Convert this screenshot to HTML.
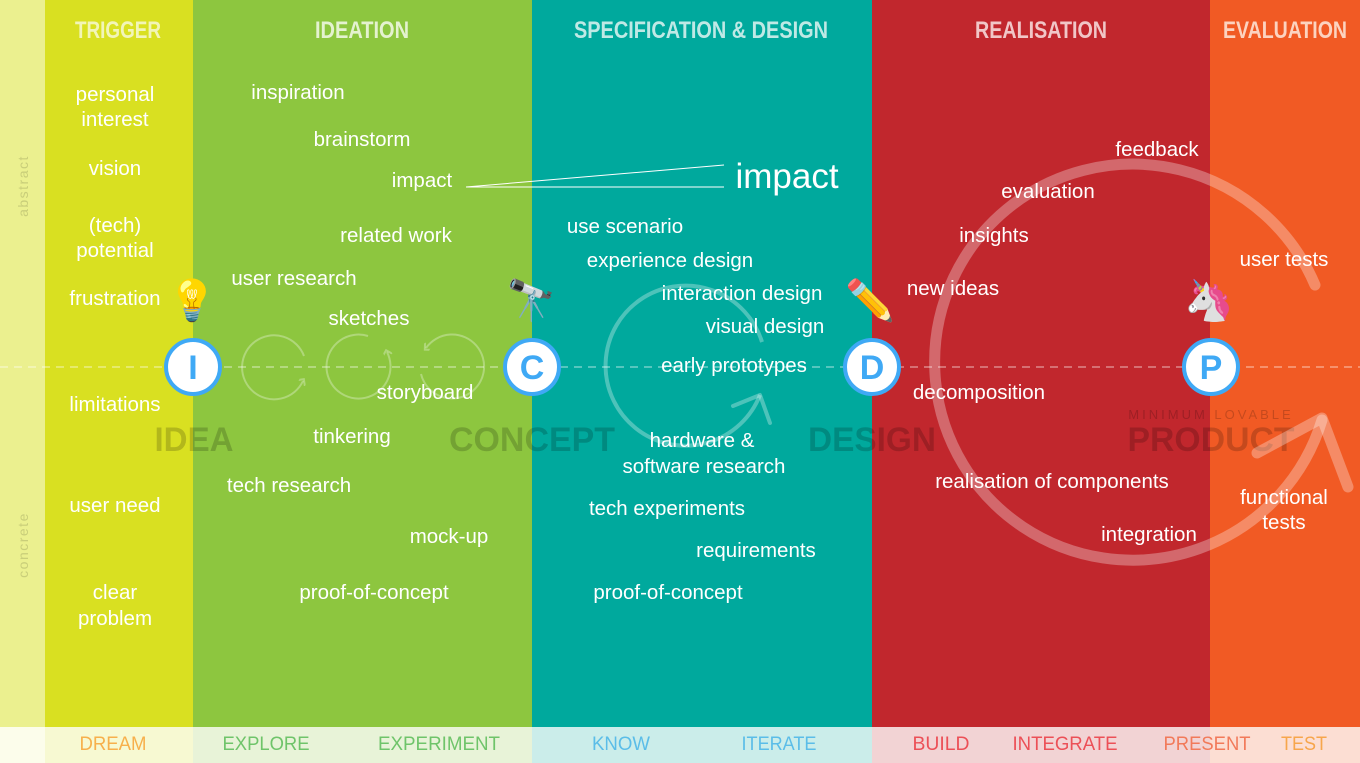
<!DOCTYPE html>
<html><head><meta charset="utf-8">
<style>
html,body{margin:0;padding:0;width:1360px;height:763px;overflow:hidden;background:#fff}
svg{display:block}
.h{font-family:"Liberation Sans",sans-serif;font-weight:bold;font-size:24px;text-anchor:middle}
.t{font-family:"Liberation Sans",sans-serif;font-size:20.5px;fill:#fff;text-anchor:middle}
.w{font-family:"Liberation Sans",sans-serif;font-weight:bold;font-size:34px;text-anchor:middle;fill:#000;fill-opacity:0.18}
.b{font-family:"Liberation Sans",sans-serif;font-size:19px;text-anchor:middle}
.cl{font-family:"Liberation Sans",sans-serif;font-weight:bold;font-size:34px;fill:#3fa9f5;text-anchor:middle}
</style></head><body>
<svg width="1360" height="763" viewBox="0 0 1360 763">
<defs>
<marker id="ah" markerWidth="8" markerHeight="8" refX="4" refY="4" orient="auto" markerUnits="userSpaceOnUse"><path d="M0,-2 L4,4 L-2,8" transform="translate(2,0)" fill="none" stroke="#fff" stroke-opacity="0.3" stroke-width="2"/></marker>
</defs>
<rect x="0" y="0" width="45" height="727" fill="#ebf08f"/>
<rect x="45" y="0" width="148" height="727" fill="#d9e021"/>
<rect x="193" y="0" width="339" height="727" fill="#8dc63f"/>
<rect x="532" y="0" width="340" height="727" fill="#00a99d"/>
<rect x="872" y="0" width="338" height="727" fill="#c1272d"/>
<rect x="1210" y="0" width="150" height="727" fill="#f15a24"/>
<rect x="0" y="727" width="45" height="36" fill="#fcfdeb"/>
<rect x="45" y="727" width="148" height="36" fill="#f7f9d2"/>
<rect x="193" y="727" width="339" height="36" fill="#e8f3d8"/>
<rect x="532" y="727" width="340" height="36" fill="#cbedea"/>
<rect x="872" y="727" width="338" height="36" fill="#f2d3d4"/>
<rect x="1210" y="727" width="150" height="36" fill="#fcded3"/>
<g>
<text class="b" x="113" y="750" fill="#f7b04c" textLength="67" lengthAdjust="spacingAndGlyphs">DREAM</text>
<text class="b" x="266" y="750" fill="#6fc46a" textLength="87" lengthAdjust="spacingAndGlyphs">EXPLORE</text>
<text class="b" x="439" y="750" fill="#6fc46a" textLength="122" lengthAdjust="spacingAndGlyphs">EXPERIMENT</text>
<text class="b" x="621" y="750" fill="#5bbde8" textLength="58" lengthAdjust="spacingAndGlyphs">KNOW</text>
<text class="b" x="779" y="750" fill="#5bbde8" textLength="75" lengthAdjust="spacingAndGlyphs">ITERATE</text>
<text class="b" x="941" y="750" fill="#ec5057" textLength="57" lengthAdjust="spacingAndGlyphs">BUILD</text>
<text class="b" x="1065" y="750" fill="#ec5057" textLength="105" lengthAdjust="spacingAndGlyphs">INTEGRATE</text>
<text class="b" x="1207" y="750" fill="#f27a5a" textLength="87" lengthAdjust="spacingAndGlyphs">PRESENT</text>
<text class="b" x="1304" y="750" fill="#f7a64c" textLength="46" lengthAdjust="spacingAndGlyphs">TEST</text>
</g>
<text x="28" y="186" transform="rotate(-90 28 186)" font-family="Liberation Sans,sans-serif" font-size="14" fill="#c9ce7a" text-anchor="middle" letter-spacing="1.5">abstract</text>
<text x="28" y="545" transform="rotate(-90 28 545)" font-family="Liberation Sans,sans-serif" font-size="14" fill="#c9ce7a" text-anchor="middle" letter-spacing="1.5">concrete</text>
<g>
<text class="h" x="118" y="38" fill="#f2f5b8" textLength="86" lengthAdjust="spacingAndGlyphs">TRIGGER</text>
<text class="h" x="362" y="38" fill="#e4f2cf" textLength="94" lengthAdjust="spacingAndGlyphs">IDEATION</text>
<text class="h" x="701" y="38" fill="#bfe9e5" textLength="254" lengthAdjust="spacingAndGlyphs">SPECIFICATION &amp; DESIGN</text>
<text class="h" x="1041" y="38" fill="#f1c6c7" textLength="132" lengthAdjust="spacingAndGlyphs">REALISATION</text>
<text class="h" x="1285" y="38" fill="#fcd3c0" textLength="124" lengthAdjust="spacingAndGlyphs">EVALUATION</text>
</g>
<line x1="0" y1="367" x2="1360" y2="367" stroke="#fff" stroke-opacity="0.45" stroke-width="1.5" stroke-dasharray="8,6"/>
<g>
<text class="w" x="194" y="451" textLength="79" lengthAdjust="spacingAndGlyphs">IDEA</text>
<text class="w" x="532" y="451" textLength="166" lengthAdjust="spacingAndGlyphs">CONCEPT</text>
<text class="w" x="872" y="451" textLength="128" lengthAdjust="spacingAndGlyphs">DESIGN</text>
<text class="w" x="1211" y="451" textLength="167" lengthAdjust="spacingAndGlyphs">PRODUCT</text>
<text x="1211" y="419" font-family="Liberation Sans,sans-serif" font-size="13" letter-spacing="3" fill="#000" fill-opacity="0.18" text-anchor="middle">MINIMUM LOVABLE</text>
</g>
<g fill="none" stroke="#fff" stroke-opacity="0.3">
<path d="M 304 356 A 32 32 0 1 0 303 381" stroke-width="2" marker-end="url(#ah)"/>
<path d="M 368 336 A 32 32 0 1 0 387 352" stroke-width="2" marker-end="url(#ah)"/>
<path d="M 421 374 A 32 32 0 1 0 426 348" stroke-width="2" marker-end="url(#ah)"/>
<path d="M 762 342 A 80 80 0 1 0 760 395" stroke-width="4"/>
<path d="M 733 406 L 760 395 L 770 423" stroke-width="4" stroke-linecap="round" stroke-linejoin="round"/>
<path d="M 1315 285 A 198 198 0 1 0 1322 420" stroke-width="11" stroke-linecap="round"/>
<path d="M 1257 453 L 1322 418 L 1348 487" stroke-width="11" stroke-linecap="round" stroke-linejoin="round"/>
</g>
<g stroke="#fff" stroke-width="1">
<line x1="466" y1="187" x2="724" y2="165"/>
<line x1="466" y1="187" x2="724" y2="187"/>
</g>
<text x="787" y="188" font-family="Liberation Sans,sans-serif" font-size="35" fill="#fff" text-anchor="middle">impact</text>
<g>
<text class="t" x="115" y="101">personal</text><text class="t" x="115" y="126">interest</text>
<text class="t" x="115" y="175">vision</text>
<text class="t" x="115" y="232">(tech)</text><text class="t" x="115" y="257">potential</text>
<text class="t" x="115" y="305">frustration</text>
<text class="t" x="115" y="411">limitations</text>
<text class="t" x="115" y="512">user need</text>
<text class="t" x="115" y="599">clear</text><text class="t" x="115" y="625">problem</text>
</g>
<g>
<text class="t" x="298" y="99">inspiration</text>
<text class="t" x="362" y="146">brainstorm</text>
<text class="t" x="422" y="187">impact</text>
<text class="t" x="396" y="242">related work</text>
<text class="t" x="294" y="285">user research</text>
<text class="t" x="369" y="325">sketches</text>
<text class="t" x="425" y="399">storyboard</text>
<text class="t" x="352" y="443">tinkering</text>
<text class="t" x="289" y="492">tech research</text>
<text class="t" x="449" y="543">mock-up</text>
<text class="t" x="374" y="599">proof-of-concept</text>
</g>
<g>
<text class="t" x="625" y="233">use scenario</text>
<text class="t" x="670" y="267">experience design</text>
<text class="t" x="742" y="300">interaction design</text>
<text class="t" x="765" y="333">visual design</text>
<text class="t" x="734" y="372">early prototypes</text>
<text class="t" x="702" y="447">hardware &amp;</text>
<text class="t" x="704" y="473">software research</text>
<text class="t" x="667" y="515">tech experiments</text>
<text class="t" x="756" y="557">requirements</text>
<text class="t" x="668" y="599">proof-of-concept</text>
</g>
<g>
<text class="t" x="1157" y="156">feedback</text>
<text class="t" x="1048" y="198">evaluation</text>
<text class="t" x="994" y="242">insights</text>
<text class="t" x="953" y="295">new ideas</text>
<text class="t" x="979" y="399">decomposition</text>
<text class="t" x="1052" y="488">realisation of components</text>
<text class="t" x="1149" y="541">integration</text>
</g>
<g>
<text class="t" x="1284" y="266">user tests</text>
<text class="t" x="1284" y="504">functional</text><text class="t" x="1284" y="529">tests</text>
</g>
<g font-family="Noto Color Emoji,DejaVu Sans,sans-serif" font-size="40" text-anchor="middle">
<text x="192" y="314" fill="#f5d900">💡</text>
<text x="531" y="314" fill="#e33">🔭</text>
<text x="870" y="314" fill="#f7a600">✏️</text>
<text x="1209" y="314" fill="#ddd">🦄</text>
</g>
<g><circle cx="193" cy="367" r="27" fill="#fff" stroke="#3fa9f5" stroke-width="4"/><text class="cl" x="193" y="379">I</text></g>
<g><circle cx="532" cy="367" r="27" fill="#fff" stroke="#3fa9f5" stroke-width="4"/><text class="cl" x="532" y="379">C</text></g>
<g><circle cx="872" cy="367" r="27" fill="#fff" stroke="#3fa9f5" stroke-width="4"/><text class="cl" x="872" y="379">D</text></g>
<g><circle cx="1211" cy="367" r="27" fill="#fff" stroke="#3fa9f5" stroke-width="4"/><text class="cl" x="1211" y="379">P</text></g>
</svg>
</body></html>
